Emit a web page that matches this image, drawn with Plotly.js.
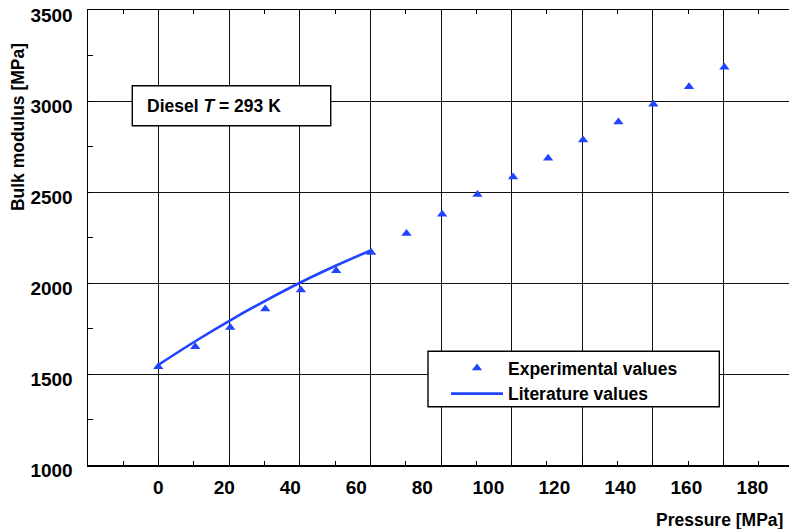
<!DOCTYPE html>
<html><head><meta charset="utf-8">
<script src="https://cdn.plot.ly/plotly-3.0.1.min.js"></script>
<style>html,body{margin:0;padding:0;overflow:hidden;background:#fff}#chart{width:800px;height:529px}</style>
</head><body><div id="chart"></div>
<script>
const pressureExp = [0, 11.2, 21.8, 32.4, 43.2, 53.9, 64.5, 75.2, 86.0, 96.7, 107.5, 118.1, 128.7, 139.4, 150.0, 160.8, 171.5];
const modulusExp  = [1540, 1650, 1756, 1857, 1961, 2067, 2168, 2272, 2378, 2486, 2583, 2686, 2786, 2885, 2982, 3078, 3186];
// Literature values
const pressureLit = [0, 11.2, 21.8, 32.4, 43.2, 53.9, 64.5];
const modulusLit  = [1550, 1680, 1795, 1902, 2004, 2096, 2180];
// Tick labels
const xTickLabels = [0, 20, 40, 60, 80, 100, 120, 140, 160, 180];
const yTickLabels = [1000, 1500, 2000, 2500, 3000, 3500];
const seriesNames = ['Experimental values', 'Literature values'];
const boxText = 'Diesel <i>T</i> = 293 K';
const xTitle = 'Pressure [MPa]';
const yTitle = 'Bulk modulus [MPa]';

const blue = '#2244ff';
const FONT = 'Liberation Sans, Arial, sans-serif';
const FS = 17.5;

const traces = [
  // empty trace: only registers the grid axis so that it is drawn
  {x: [], y: [], xaxis: 'x', yaxis: 'y', type: 'scatter', mode: 'markers', showlegend: false, hoverinfo: 'skip'},
  {x: pressureExp, y: modulusExp, xaxis: 'x2', yaxis: 'y', mode: 'markers', name: seriesNames[0],
   marker: {symbol: 'triangle-up', size: 9, color: blue, line: {width: 0}}},
  {x: pressureLit, y: modulusLit, xaxis: 'x2', yaxis: 'y', mode: 'lines', name: seriesNames[1],
   line: {color: blue, width: 2.6, shape: 'spline'}}
];

const layout = {
  width: 800, height: 529,
  margin: {l: 88, r: 6, t: 10, b: 64},
  paper_bgcolor: '#fff', plot_bgcolor: '#fff',
  font: {family: FONT, size: FS, color: '#000', weight: 'bold'},
  showlegend: true,
  xaxis: {
    range: [-20, 180], tick0: 0, dtick: 20,
    showgrid: true, gridcolor: '#111', gridwidth: 1, zeroline: false,
    showline: true, linecolor: '#000', linewidth: 1.5, mirror: 'ticks',
    ticks: 'inside', ticklen: 4, tickcolor: '#000', tickwidth: 1,
    showticklabels: false,
    minor: {dtick: 10, ticks: 'inside', ticklen: 4, tickcolor: '#000', tickwidth: 1, showgrid: false}
  },
  xaxis2: {
    overlaying: 'x', side: 'bottom', anchor: 'y',
    range: [-21.3, 192.6],
    tickmode: 'array', tickvals: xTickLabels, ticktext: xTickLabels.map(String),
    showgrid: false, zeroline: false, showline: false, ticks: '',
    tickfont: {family: FONT, size: 19, color: '#000', weight: 'bold'},
    ticklabelstandoff: 9
  },
  yaxis: {
    range: [1000, 3500],
    tickmode: 'array', tickvals: yTickLabels, ticktext: yTickLabels.map(String),
    showgrid: true, gridcolor: '#111', gridwidth: 1, zeroline: false,
    showline: true, linecolor: '#000', linewidth: 1.5, mirror: 'ticks',
    ticks: 'inside', ticklen: 5, tickcolor: '#000', tickwidth: 1,
    minor: {dtick: 250, ticks: 'inside', ticklen: 5, tickcolor: '#000', tickwidth: 1, showgrid: false},
    tickfont: {family: FONT, size: 19, color: '#000', weight: 'bold'},
    ticklabelstandoff: 10, ticklabelshift: 5, ticklabeloverflow: 'allow'
  },
  legend: {
    x: (446 - 88) / 706, y: (465 - 350) / 455, xanchor: 'left', yanchor: 'top',
    bgcolor: 'rgba(0,0,0,0)', borderwidth: 0,
    font: {family: FONT, size: FS, color: '#000', weight: 'bold'},
    itemwidth: 52, tracegroupgap: 0
  },
  shapes: [
    {type: 'rect', xref: 'paper', yref: 'paper', x0: 0.0627, x1: 0.3438, y0: 0.7457, y1: 0.8336,
     line: {color: '#000', width: 1.4}, fillcolor: '#fff', layer: 'above'},
    {type: 'rect', xref: 'paper', yref: 'paper', x0: 0.4816, x1: 0.8942, y0: 0.1281, y1: 0.2499,
     line: {color: '#000', width: 1.4}, fillcolor: '#fff', layer: 'above'}
  ],
  annotations: [
    {text: boxText, xref: 'paper', yref: 'paper', x: (145 - 88) / 706, y: (465 - 106) / 455,
     xanchor: 'left', yanchor: 'middle', showarrow: false,
     font: {family: FONT, size: FS, color: '#000', weight: 'bold'}},
    {text: xTitle, xref: 'paper', yref: 'paper', x: (785 - 88) / 706, y: (465 - 519.5) / 455,
     xanchor: 'right', yanchor: 'middle', showarrow: false,
     font: {family: FONT, size: FS, color: '#000', weight: 'bold'}},
    {text: yTitle, xref: 'paper', yref: 'paper', x: (18.3 - 88) / 706, y: (465 - 126.8) / 455,
     xanchor: 'center', yanchor: 'middle', showarrow: false, textangle: -90,
     font: {family: FONT, size: FS, color: '#000', weight: 'bold'}}
  ]
};

Plotly.newPlot('chart', traces, layout, {displayModeBar: false, staticPlot: true});
</script>
</body></html>
